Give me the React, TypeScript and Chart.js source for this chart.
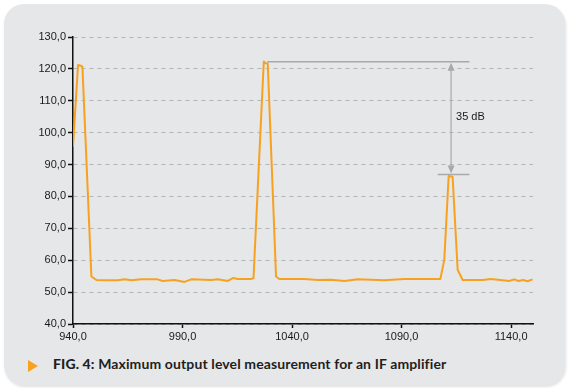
import React, { useEffect, useRef } from "react";
import { Chart, registerables } from "chart.js";

Chart.register(...registerables);

// Frequency (MHz) and output level (dBµV)
const freqs = [
  940, 942.3, 943.5, 944.3, 948.4, 950.7, 955, 960.4, 963.6, 966.6, 971.2, 978.6,
  980.9, 986.4, 990.9, 994, 1003.1, 1006.1, 1010.7, 1013, 1015.2, 1021.3, 1022.4,
  1027.1, 1027.9, 1028.9, 1032.7, 1034.2, 1045.7, 1051.7, 1057.8, 1063.9, 1070,
  1082.1, 1091.2, 1107.7, 1109.5, 1111.5, 1113.3, 1115.6, 1117.9, 1127, 1130.8,
  1139.2, 1141.4, 1143.4, 1145.5, 1147.5, 1149.8,
];
const levels = [
  95.6, 121.2, 121.0, 120.7, 54.9, 53.8, 53.7, 53.7, 54.0, 53.7, 54.0, 54.0,
  53.5, 53.8, 53.2, 54.0, 53.8, 54.0, 53.5, 54.4, 54.1, 54.1, 54.4,
  122.3, 121.8, 121.7, 54.9, 54.1, 54.1, 53.8, 53.9, 53.5, 54.0,
  53.7, 54.1, 54.1, 60.1, 86.4, 86.2, 57.0, 53.8, 53.8, 54.1,
  53.5, 54.0, 53.5, 53.8, 53.4, 54.0,
];

const xTicks = [940, 990, 1040, 1090, 1140];
const yTicks = [40, 50, 60, 70, 80, 90, 100, 110, 120, 130];

// Annotation (35 dB difference)
const annotTopLevel = 122.2;
const annotBottomLevel = 86.9;
const annotTopFrom = 1028.6;
const annotBottomFrom = 1106.5;
const annotTo = 1121;
const annotArrowX = 1112.6;
const annotLabel = "35 dB";

const caption = "Maximum output level measurement for an IF amplifier";
const captionLead = "FIG. 4:";

const fmt = (v: number) => v.toFixed(1).replace(".", ",");

const annotationPlugin = {
  id: "dbAnnotation",
  afterDatasetsDraw(chart: any) {
    const { ctx, scales } = chart;
    const x = scales.x;
    const y = scales.y;
    const yTop = y.getPixelForValue(annotTopLevel);
    const yBot = y.getPixelForValue(annotBottomLevel);
    const xA = x.getPixelForValue(annotArrowX);
    ctx.save();
    ctx.strokeStyle = "#a8a9ab";
    ctx.fillStyle = "#a8a9ab";
    ctx.lineWidth = 1.5;
    ctx.beginPath();
    ctx.moveTo(x.getPixelForValue(annotTopFrom), yTop);
    ctx.lineTo(x.getPixelForValue(annotTo), yTop);
    ctx.moveTo(x.getPixelForValue(annotBottomFrom), yBot);
    ctx.lineTo(x.getPixelForValue(annotTo), yBot);
    ctx.stroke();
    ctx.lineWidth = 1.2;
    ctx.beginPath();
    ctx.moveTo(xA, yTop + 6);
    ctx.lineTo(xA, yBot - 6);
    ctx.stroke();
    // arrow heads
    ctx.beginPath();
    ctx.moveTo(xA, yTop + 1);
    ctx.lineTo(xA - 3.5, yTop + 9);
    ctx.lineTo(xA + 3.5, yTop + 9);
    ctx.closePath();
    ctx.fill();
    ctx.beginPath();
    ctx.moveTo(xA, yBot - 1);
    ctx.lineTo(xA - 3.5, yBot - 9);
    ctx.lineTo(xA + 3.5, yBot - 9);
    ctx.closePath();
    ctx.fill();
    ctx.fillStyle = "#1a1a1a";
    ctx.font = "11px 'Liberation Sans', Arial, sans-serif";
    ctx.textBaseline = "middle";
    ctx.textAlign = "left";
    ctx.fillText(annotLabel, xA + 5, (yTop + yBot) / 2 - 1);
    ctx.restore();
  },
};

export default function App() {
  const canvasRef = useRef<HTMLCanvasElement | null>(null);

  useEffect(() => {
    const canvas = canvasRef.current;
    if (!canvas) return;
    const chart = new Chart(canvas, {
      type: "line",
      data: {
        datasets: [
          {
            data: freqs.map((f, i) => ({ x: f, y: levels[i] })),
            borderColor: "#f7a21f",
            borderWidth: 2,
            pointRadius: 0,
            tension: 0,
            borderJoinStyle: "round",
            fill: false,
          },
        ],
      },
      options: {
        animation: false,
        responsive: false,
        devicePixelRatio: 1,
        layout: { padding: { left: 0, right: 37, top: 37, bottom: 0 } },
        plugins: {
          legend: { display: false },
          tooltip: { enabled: false },
        },
        scales: {
          x: {
            type: "linear",
            min: 940,
            max: 1150,
            afterBuildTicks: (scale: any) => {
              scale.ticks = xTicks.map((v) => ({ value: v }));
            },
            afterFit: (scale: any) => {
              scale.height = 21;
            },
            ticks: {
              callback: (v: any) => fmt(Number(v)),
              color: "#1a1a1a",
              font: { family: "'Liberation Sans', Arial, sans-serif", size: 11 },
              padding: 2,
              maxRotation: 0,
              autoSkip: false,
            },
            grid: {
              drawOnChartArea: false,
              drawTicks: true,
              tickLength: 4,
              tickColor: "#111",
              tickWidth: 1.5,
            },
            border: { display: true, color: "#111", width: 1.5 },
          },
          y: {
            type: "linear",
            min: 40,
            max: 130,
            afterBuildTicks: (scale: any) => {
              scale.ticks = yTicks.map((v) => ({ value: v }));
            },
            afterFit: (scale: any) => {
              scale.width = 73;
            },
            ticks: {
              callback: (v: any) => fmt(Number(v)),
              color: "#1a1a1a",
              font: { family: "'Liberation Sans', Arial, sans-serif", size: 11 },
              padding: 2,
              autoSkip: false,
            },
            grid: {
              drawOnChartArea: true,
              color: "#b4b5b7",
              lineWidth: 1,
              drawTicks: true,
              tickLength: 5,
              tickColor: "#111",
              tickWidth: 1.5,
              tickBorderDash: [],
            },
            border: { display: true, color: "#111", width: 1.5, dash: [4, 4] },
          },
        },
      },
      plugins: [annotationPlugin],
    } as any);
    return () => chart.destroy();
  }, []);

  return (
    <div
      style={{
        position: "fixed",
        left: 0,
        top: 0,
        width: 570,
        height: 388,
        background: "#ffffff",
        overflow: "hidden",
      }}
    >
      <div
        style={{
          position: "absolute",
          left: 4,
          top: 4,
          width: 561,
          height: 381,
          borderRadius: 20,
          background: "#e6e7e9",
          boxShadow: "1px 2px 3px rgba(0,0,0,0.12)",
        }}
      />
      <canvas
        ref={canvasRef}
        width={570}
        height={345}
        style={{ position: "absolute", left: 0, top: 0, width: 570, height: 345 }}
      />
      <div
        style={{
          position: "absolute",
          left: 28,
          top: 360,
          width: 0,
          height: 0,
          borderTop: "6px solid transparent",
          borderBottom: "6px solid transparent",
          borderLeft: "10px solid #f7a21f",
        }}
      />
      <div
        style={{
          position: "absolute",
          left: 53,
          top: 355,
          fontFamily: "Lato, 'Open Sans', sans-serif",
          fontSize: 14,
          fontWeight: 700,
          letterSpacing: "0.12px",
          color: "#1f1f1f",
          whiteSpace: "nowrap",
          lineHeight: "18px",
        }}
      >
        <span style={{ fontWeight: 900 }}>{captionLead}</span> {caption}
      </div>
    </div>
  );
}
